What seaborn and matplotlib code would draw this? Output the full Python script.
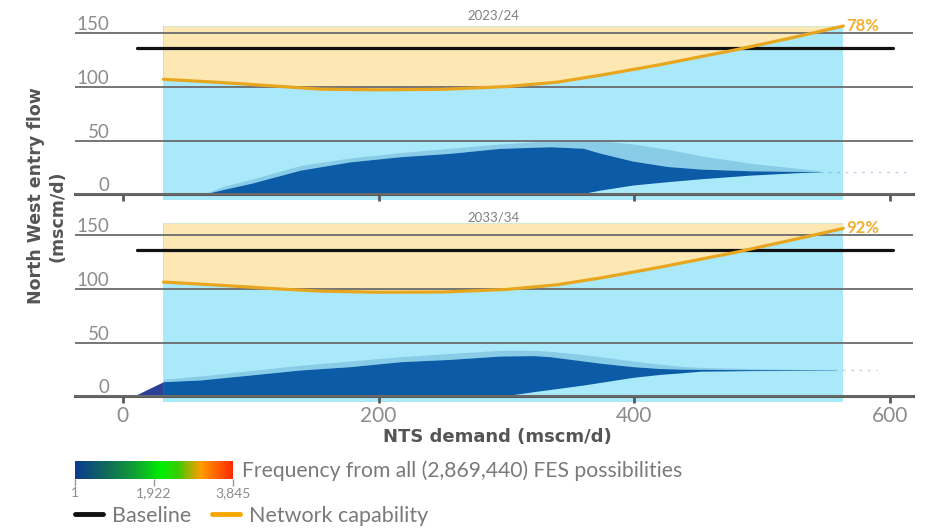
import numpy as np
import pandas as pd
import seaborn as sns
import matplotlib
matplotlib.use("Agg")
import matplotlib.pyplot as plt
from matplotlib.colors import LinearSegmentedColormap, Normalize
from matplotlib.colorbar import ColorbarBase
from matplotlib.lines import Line2D

# ---------------- data ----------------
periods = ["2023/24", "2033/34"]
pct_labels = ["78%", "92%"]
x_ticks = [0, 200, 400, 600]
y_ticks = [0, 50, 100, 150]

region_x = [31.7, 563.3]            # demand span of the FES region
region_top = [156.8, 161.5]         # top of the region per period

baseline_x = [11, 602]
baseline_flow = [136.0, 136.3]

cap_demand = [31.7, 80, 120, 155, 200, 250, 300, 340, 374.5, 420, 478.5, 520, 563.3]
cap_2324 = [107.2, 104.0, 100.8, 98.0, 97.4, 97.9, 100.4, 104.6, 111.2, 120.8, 134.5, 145.0, 156.8]
cap_3334 = [106.5, 103.2, 100.2, 98.0, 97.0, 97.2, 99.6, 104.0, 110.5, 120.3, 134.0, 144.8, 156.4]

# frequency cloud envelopes (dense core, sparse fringe)
cloud_x_2324 = [62, 80, 100, 139, 178, 217, 256, 295, 334, 360, 373, 399, 426, 452, 491, 530, 545]
cloud_hi_2324 = [0, 5, 10.3, 22.7, 30.4, 35.1, 38.3, 42.9, 44.4, 43.0, 38.5, 31.0, 26.0, 23.6, 22.0, 21.4, 21.1]
cloud_lo_2324 = [0, 0, 0, 0, 0, 0, 0, 0, 0, 1.0, 4.0, 8.8, 11.9, 14.6, 18.0, 20.4, 20.8]
cloud_sp_2324 = [0, 8, 14, 27, 34, 39, 43, 47, 50, 51, 50, 47, 42, 36, 29, 24, 22]
tail_x_2324 = [545, 612]
tail_y_2324 = [21.0, 21.0]

cloud_x_3334 = [8, 20, 31.7, 60.4, 99.5, 138.6, 177.7, 216.8, 256, 295, 321, 334, 360, 373, 399, 420, 437, 452, 490, 530, 556]
cloud_hi_3334 = [0, 7, 13.7, 15.3, 19.9, 24.6, 27.7, 32.3, 34.5, 37.6, 38.0, 37.0, 33.0, 31.0, 27.7, 26.0, 25.4, 25.2, 24.9, 24.7, 24.5]
cloud_lo_3334 = [0, 0, 0, 0, 0, 0, 0, 0, 0, 0, 4.4, 6.5, 10.6, 13.0, 17.8, 20.5, 22.0, 23.5, 24.0, 24.2, 24.2]
cloud_sp_3334 = [0, 9, 16, 19, 24, 29, 33, 37, 40, 43, 43, 42, 39, 37, 33, 30, 28, 27, 26, 25.2, 24.8]
tail_x_3334 = [556, 590]
tail_y_3334 = [24.3, 24.3]

cbar_ticks = [1, 1922, 3845]
cbar_ticklabels = ["1", "1,922", "3,845"]
total_possibilities = "2,869,440"

caps = [cap_2324, cap_3334]
clouds = [
    (cloud_x_2324, cloud_lo_2324, cloud_hi_2324, cloud_sp_2324, tail_x_2324, tail_y_2324),
    (cloud_x_3334, cloud_lo_3334, cloud_hi_3334, cloud_sp_3334, tail_x_3334, tail_y_3334),
]

# ---------------- style ----------------
sns.set_theme(style="white")
plt.rcParams["font.family"] = ["Lato", "DejaVu Sans"]

BLUE_BG = "#a9e9f9"
CREAM = "#fde7b3"
GOLD = "#e8a61e"
DENSE = "#0b5ba6"
NAVY = "#2e3f96"
GRID = "#6b6b6b"
TICKC = "#8c8c8c"
LABELC = "#555555"

fig = plt.figure(figsize=(9.27, 5.30), dpi=100)
ax_top = fig.add_axes([0.0809, 0.623, 0.9037, 0.3587])
ax_bot = fig.add_axes([0.0809, 0.2419, 0.9037, 0.3587])
axes = [ax_top, ax_bot]

for i, ax in enumerate(axes):
    ax.set_xlim(-37.4, 617.6)
    ax.set_ylim(-5, 172)
    top = region_top[i]

    # FES region (light blue) and headroom above capability (cream)
    ax.fill_between(region_x, [-5, -5], [top, top], color=BLUE_BG, lw=0, zorder=1)
    ax.fill_between(cap_demand, caps[i], [top] * len(cap_demand), color=CREAM, lw=0, zorder=1.1)

    # frequency cloud
    cx, lo, hi, sp, tx, ty = clouds[i]
    cx_a = np.array(cx)
    inside = cx_a >= region_x[0]
    outside = cx_a <= region_x[0]
    ax.fill_between(cx, hi, sp, where=inside, color=DENSE, alpha=0.2, lw=0, zorder=1.5)
    ax.fill_between(cx, lo, hi, where=inside, color=DENSE, lw=0, zorder=1.6)
    if outside.sum() > 1:
        ax.fill_between(cx, lo, hi, where=outside, color=NAVY, lw=0, zorder=1.6)
    ax.plot(tx, ty, color="#5a8fc4", lw=1.0, alpha=0.4, ls=(0, (2, 4)), zorder=1.6)

    # gridlines
    ax.set_yticks(y_ticks)
    ax.yaxis.grid(True, color=GRID, lw=1.3)
    ax.set_axisbelow(False)
    ax.tick_params(axis="y", left=False, labelleft=False)
    for v in y_ticks:
        ax.text(0.0412, v + 2.8, str(v), transform=ax.get_yaxis_transform(),
                ha="right", va="baseline", fontsize=13.5, color=TICKC)

    # baseline & capability
    sns.lineplot(x=baseline_x, y=[baseline_flow[i]] * 2, ax=ax, color="#111111", lw=2.3, zorder=3)
    sns.lineplot(x=cap_demand, y=caps[i], ax=ax, color=GOLD, lw=2.3, zorder=3.2)
    ax.text(cap_demand[-1] + 2, caps[i][-1], pct_labels[i], ha="left", va="center",
            fontsize=12, color="#f0b030", fontweight="bold")

    # panel title
    ax.text(0.5, 166.5, periods[i], transform=ax.get_yaxis_transform(), ha="center",
            va="center", fontsize=9.5, color="#808080")

    # axes styling
    for s in ["left", "right", "top"]:
        ax.spines[s].set_visible(False)
    ax.spines["bottom"].set_position(("data", 0))
    ax.spines["bottom"].set_color("#5a5a5a")
    ax.spines["bottom"].set_linewidth(2.2)
    ax.set_xticks(x_ticks)
    ax.tick_params(axis="x", bottom=True, direction="out", length=5, width=2,
                   color="#5a5a5a", labelsize=15, labelcolor=TICKC, pad=2)
    ax.set_xlabel("")
    ax.set_ylabel("")
    if i == 0:
        ax.tick_params(axis="x", labelbottom=False)

# axis labels
fig.text(36 / 927, 1 - 196 / 530, "North West entry flow", rotation=90, ha="center", va="center",
         fontsize=12.5, fontweight="bold", color=LABELC, family="DejaVu Sans")
fig.text(58 / 927, 1 - 216 / 530, "(mscm/d)", rotation=90, ha="center", va="center",
         fontsize=12.5, fontweight="bold", color=LABELC, family="DejaVu Sans")
fig.text(497 / 927, 1 - 437 / 530, "NTS demand (mscm/d)", ha="center", va="center",
         fontsize=13, fontweight="bold", color=LABELC, family="DejaVu Sans")

# colorbar
cmap = LinearSegmentedColormap.from_list(
    "freq",
    [(0.0, "#0b3a8f"), (0.2, "#0f6a5a"), (0.38, "#10a032"), (0.55, "#00f000"),
     (0.65, "#38cc00"), (0.73, "#a8b000"), (0.8, "#ff9a00"), (1.0, "#ff2800")])
cax = fig.add_axes([75 / 927, 51 / 530, 158 / 927, 18 / 530])
cb = ColorbarBase(cax, cmap=cmap, norm=Normalize(1, 3845), orientation="horizontal")
cb.outline.set_visible(False)
cb.set_ticks(cbar_ticks)
cb.set_ticklabels(cbar_ticklabels)
cax.tick_params(axis="x", length=5, width=1, color="#999999", labelsize=10,
                labelcolor=TICKC, pad=1)
fig.text(242 / 927, 1 - 471 / 530, f"Frequency from all ({total_possibilities}) FES possibilities",
         ha="left", va="center", fontsize=15.2, color="#7a7a7a")

# legend
handles = [Line2D([], [], color="#111111", lw=3.5, solid_capstyle="round"),
           Line2D([], [], color="#f5a700", lw=3.5, solid_capstyle="round")]
fig.legend(handles=handles, labels=["Baseline", "Network capability"], loc="center left",
           bbox_to_anchor=(75 / 927, 1 - 516 / 530), ncol=2, frameon=False, fontsize=15.5,
           handlelength=1.3, handletextpad=0.4, columnspacing=1.0, borderpad=0,
           borderaxespad=0, labelcolor="#7a7a7a")

fig.savefig("out.png", dpi=100)
